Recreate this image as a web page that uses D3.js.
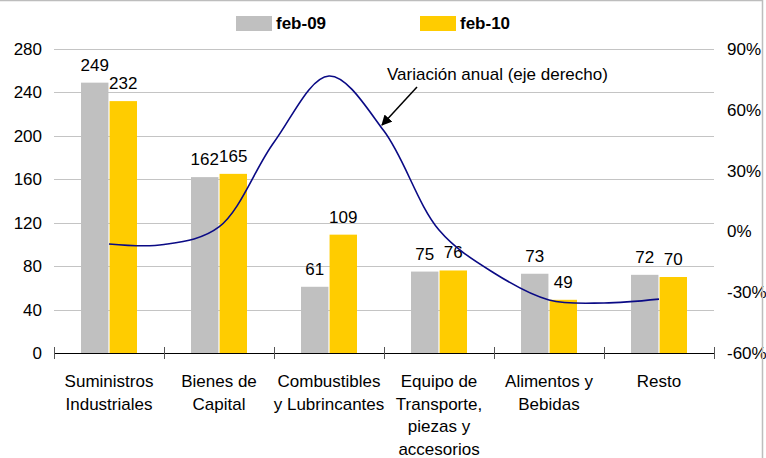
<!DOCTYPE html>
<meta charset="utf-8">
<style>
body {
  margin: 0;
  font-family: "Liberation Sans", Arial, sans-serif;
  font-size: 17px;
}
.grid line {
  stroke: #c4c4c4;
  stroke-width: 1.2;
}
.lbl {
  fill: #000;
}
</style>
<body>
<script src="https://d3js.org/d3.v7.min.js"></script>
<script>

var width = 766,
    height = 458;

var categories = [
  ["Suministros", "Industriales"],
  ["Bienes de", "Capital"],
  ["Combustibles", "y Lubrincantes"],
  ["Equipo de", "Transporte,", "piezas y", "accesorios"],
  ["Alimentos y", "Bebidas"],
  ["Resto"]
];
var series = ["feb-09", "feb-10"];
var feb09 = [249, 162, 61, 75, 73, 72];
var feb10 = [232, 165, 109, 76, 49, 70];

// variación anual, read at every half category step
var linePos = [0, 0.5, 1, 1.5, 2, 2.5, 3, 3.5, 4, 4.5, 5];
var lineVal = [-6.2, -6.5, 2.2, 44, 76.7, 49.5, 0.7, -20.5, -33.8, -35.3, -33.4];

var leftTicks = [0, 40, 80, 120, 160, 200, 240, 280];
var rightTicks = [-60, -30, 0, 30, 60, 90];

var colors = {"feb-09": "#c0c0c0", "feb-10": "#ffcc00"};

var svg = d3.select("body").append("svg")
    .attr("width", width)
    .attr("height", height);

var names = categories.map(function(d) { return d.join(" "); });

var x = d3.scaleBand()
    .domain(names)
    .range([54, 714]);

var xs = d3.scaleBand()
    .domain(series)
    .range([x.bandwidth() / 2 - 28, x.bandwidth() / 2 + 28])
    .paddingInner(0.04);

var xl = d3.scaleLinear()
    .domain([0, 5])
    .range([x(names[0]) + x.bandwidth() / 2, x(names[5]) + x.bandwidth() / 2]);

var y = d3.scaleLinear()
    .domain([0, 280])
    .range([353, 49]);

var yR = d3.scaleLinear()
    .domain([-60, 90])
    .range([353, 49]);

// grid
svg.append("g")
    .attr("class", "grid")
  .selectAll("line")
    .data(leftTicks.slice(1))
  .enter().append("line")
    .attr("x1", 54)
    .attr("x2", 714)
    .attr("y1", function(d) { return Math.round(y(d)) + 0.5; })
    .attr("y2", function(d) { return Math.round(y(d)) + 0.5; });

// left axis labels
svg.append("g")
  .selectAll("text")
    .data(leftTicks)
  .enter().append("text")
    .attr("class", "lbl")
    .attr("x", 42)
    .attr("y", function(d) { return y(d); })
    .attr("dy", "0.35em")
    .attr("text-anchor", "end")
    .text(function(d) { return d; });

// right axis labels
svg.append("g")
  .selectAll("text")
    .data(rightTicks)
  .enter().append("text")
    .attr("class", "lbl")
    .attr("x", 727)
    .attr("y", function(d) { return yR(d); })
    .attr("dy", "0.35em")
    .text(function(d) { return d + "%"; });

// bars
var rows = names.map(function(n, i) {
  return {name: n, values: [{s: "feb-09", v: feb09[i]}, {s: "feb-10", v: feb10[i]}]};
});

var groups = svg.selectAll(".cat")
    .data(rows)
  .enter().append("g")
    .attr("class", "cat")
    .attr("transform", function(d) { return "translate(" + x(d.name) + ",0)"; });

groups.selectAll("rect")
    .data(function(d) { return d.values; })
  .enter().append("rect")
    .attr("x", function(d) { return xs(d.s); })
    .attr("width", xs.bandwidth())
    .attr("y", function(d) { return y(d.v); })
    .attr("height", function(d) { return y(0) - y(d.v); })
    .attr("fill", function(d) { return colors[d.s]; });

groups.selectAll("text")
    .data(function(d) { return d.values; })
  .enter().append("text")
    .attr("class", "lbl")
    .attr("x", function(d) { return xs(d.s) + xs.bandwidth() / 2; })
    .attr("y", function(d) { return y(d.v) - 12; })
    .attr("text-anchor", "middle")
    .text(function(d) { return d.v; });

// category axis
svg.append("line")
    .attr("x1", 54)
    .attr("x2", 714)
    .attr("y1", 353.5)
    .attr("y2", 353.5)
    .attr("stroke", "#000")
    .attr("stroke-width", 1.2);

svg.append("g")
  .selectAll("line")
    .data(names.concat(["end"]))
  .enter().append("line")
    .attr("x1", function(d, i) { return i < names.length ? Math.round(x(d)) + 0.5 : 714.5; })
    .attr("x2", function(d, i) { return i < names.length ? Math.round(x(d)) + 0.5 : 714.5; })
    .attr("y1", 347)
    .attr("y2", 359)
    .attr("stroke", "#555");

svg.append("g")
  .selectAll("text")
    .data(categories)
  .enter().append("text")
    .attr("class", "lbl")
    .attr("text-anchor", "middle")
    .attr("transform", function(d, i) { return "translate(" + (x(names[i]) + x.bandwidth() / 2) + ",387)"; })
  .selectAll("tspan")
    .data(function(d) { return d; })
  .enter().append("tspan")
    .attr("x", 0)
    .attr("y", function(d, i) { return i * 22.5; })
    .text(function(d) { return d; });

// line
var line = d3.line()
    .x(function(d) { return xl(d[0]); })
    .y(function(d) { return yR(d[1]); })
    .curve(d3.curveCatmullRom);

svg.append("path")
    .datum(linePos.map(function(p, i) { return [p, lineVal[i]]; }))
    .attr("d", line)
    .attr("fill", "none")
    .attr("stroke", "#0a0a85")
    .attr("stroke-width", 1.6);

// annotation
svg.append("defs").append("marker")
    .attr("id", "arrow")
    .attr("viewBox", "0 0 10 10")
    .attr("refX", 9)
    .attr("refY", 5)
    .attr("markerWidth", 7)
    .attr("markerHeight", 7)
    .attr("orient", "auto")
  .append("path")
    .attr("d", "M0,0L10,5L0,10z")
    .attr("fill", "#000");

svg.append("line")
    .attr("x1", 417)
    .attr("y1", 87)
    .attr("x2", 382)
    .attr("y2", 125)
    .attr("stroke", "#000")
    .attr("stroke-width", 1.5)
    .attr("marker-end", "url(#arrow)");

svg.append("text")
    .attr("class", "lbl")
    .attr("x", 387)
    .attr("y", 80)
    .text("Variación anual (eje derecho)");

// legend
var legend = svg.selectAll(".legend")
    .data(series)
  .enter().append("g")
    .attr("class", "legend")
    .attr("transform", function(d, i) { return "translate(" + (236 + i * 184) + ",16)"; });

legend.append("rect")
    .attr("width", 36)
    .attr("height", 15)
    .attr("fill", function(d) { return colors[d]; });

legend.append("text")
    .attr("x", 40)
    .attr("y", 13)
    .attr("font-weight", "bold")
    .text(function(d) { return d; });

// frame
svg.append("path")
    .attr("d", "M0,0.5H762.5V458")
    .attr("fill", "none")
    .attr("stroke", "#bdbdbd")
    .attr("stroke-width", 1.5);

</script>
